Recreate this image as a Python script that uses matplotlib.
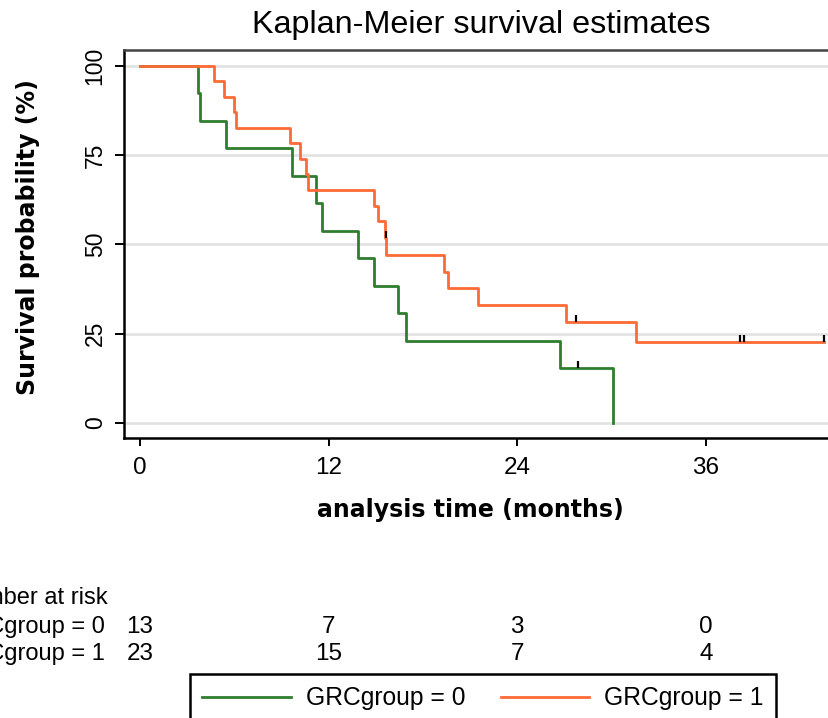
import matplotlib
matplotlib.use('Agg')
import matplotlib.pyplot as plt
from matplotlib.transforms import blended_transform_factory

# step curves (time in months, survival in %)
green_t = [0, 3.71, 3.82, 5.49, 9.69, 11.2, 11.58, 13.89, 14.9, 16.43, 16.92, 26.74, 30.07]
green_s = [100, 92.3, 84.6, 76.9, 69.2, 61.5, 53.8, 46.2, 38.5, 30.8, 23.1, 15.4, 0]
orange_t = [0, 4.71, 5.34, 6.0, 6.11, 9.56, 10.2, 10.56, 10.71, 14.9, 15.16, 15.58, 15.66,
            19.36, 19.61, 21.52, 27.1, 31.57, 43.5]
orange_s = [100, 95.7, 91.3, 87.0, 82.6, 78.3, 73.9, 69.6, 65.2, 60.9, 56.5, 51.8, 47.1,
            42.4, 37.7, 33.0, 28.3, 22.6, 22.6]

# censored observations
green_cens_t = [27.88]
green_cens_s = [15.4]
orange_cens_t = [15.62, 27.74, 38.17, 38.42, 43.5]
orange_cens_s = [51.8, 28.3, 22.6, 22.6, 22.6]

# number at risk
risk_times = [0, 12, 24, 36]
risk_g0 = [13, 7, 3, 0]
risk_g1 = [23, 15, 7, 4]

labels = ['GRCgroup = 0', 'GRCgroup = 1']
c_green = '#2f7d2f'
c_orange = '#ff6a35'

W, H = 829, 718
fig = plt.figure(figsize=(W / 100, H / 100), dpi=100)
ax = fig.add_axes([124 / W, 280 / H, (W - 124) / W, 388.5 / H])

ax.step(green_t, green_s, where='post', color=c_green, lw=2.0, label=labels[0], zorder=3)
ax.step(orange_t, orange_s, where='post', color=c_orange, lw=2.0, label=labels[1], zorder=4)
ax.vlines(green_cens_t, green_cens_s, [s + 2.0 for s in green_cens_s], color='black', lw=1.6, zorder=5)
ax.vlines(orange_cens_t, orange_cens_s, [s + 2.0 for s in orange_cens_s], color='black', lw=1.6, zorder=5)

ax.set_xlim(-1.02, 43.83)
ax.set_ylim(-4.2, 104.6)
ax.set_xticks(risk_times)
ax.set_yticks([0, 25, 50, 75, 100])
ax.yaxis.grid(True, color='#e3e3e3', lw=2.0)
ax.set_axisbelow(True)

for side in ['left', 'bottom']:
    ax.spines[side].set_color('black')
    ax.spines[side].set_linewidth(1.8)
ax.spines['top'].set_color('#444444')
ax.spines['top'].set_linewidth(1.8)
ax.spines['right'].set_visible(False)

ax.tick_params(axis='x', length=6, width=1.4, pad=8, labelsize=17.5)
ax.tick_params(axis='y', length=6.5, width=1.4, pad=6, labelsize=16.5, labelrotation=90)
for lab in ax.get_xticklabels() + ax.get_yticklabels():
    lab.set_fontfamily('Liberation Sans')
for lab in ax.get_yticklabels():
    lab.set_va('center')

fig.text(481 / W, 1 - 25 / H, 'Kaplan-Meier survival estimates', ha='center', va='center',
         fontsize=23.3, family='Liberation Sans')
fig.text(28 / W, 1 - 237 / H, 'Survival probability (%)', rotation=90, ha='center', va='center',
         fontsize=17, fontweight='bold', family='DejaVu Sans')
fig.text(470 / W, 1 - 510 / H, 'analysis time (months)', ha='center', va='center',
         fontsize=17, fontweight='bold', family='DejaVu Sans')

# number at risk table (the left edge is cut by the figure, as in the original)
tr = blended_transform_factory(ax.transData, fig.transFigure)
fs_tab = 17
fig.text(108 / W, 1 - 598 / H, 'Number at risk', ha='right', va='center', fontsize=fs_tab,
         family='Liberation Sans')
fig.text(105 / W, 1 - 627 / H, labels[0], ha='right', va='center', fontsize=fs_tab, family='Liberation Sans')
fig.text(105 / W, 1 - 654 / H, labels[1], ha='right', va='center', fontsize=fs_tab, family='Liberation Sans')
for t, n0, n1 in zip(risk_times, risk_g0, risk_g1):
    ax.text(t, 1 - 627 / H, str(n0), transform=tr, ha='center', va='center', fontsize=fs_tab + 0.5,
            family='Liberation Sans')
    ax.text(t, 1 - 654 / H, str(n1), transform=tr, ha='center', va='center', fontsize=fs_tab + 0.5,
            family='Liberation Sans')

leg = fig.legend(loc='upper left', bbox_to_anchor=(190 / W, 1 - 674 / H), ncol=2,
                 prop={'family': 'Liberation Sans', 'size': 17.7}, fancybox=False,
                 edgecolor='black', framealpha=1, borderpad=0.5, borderaxespad=0,
                 handlelength=3.6, handletextpad=0.6, columnspacing=1.45)
leg.get_frame().set_linewidth(1.8)

fig.savefig('out.png', dpi=100)
